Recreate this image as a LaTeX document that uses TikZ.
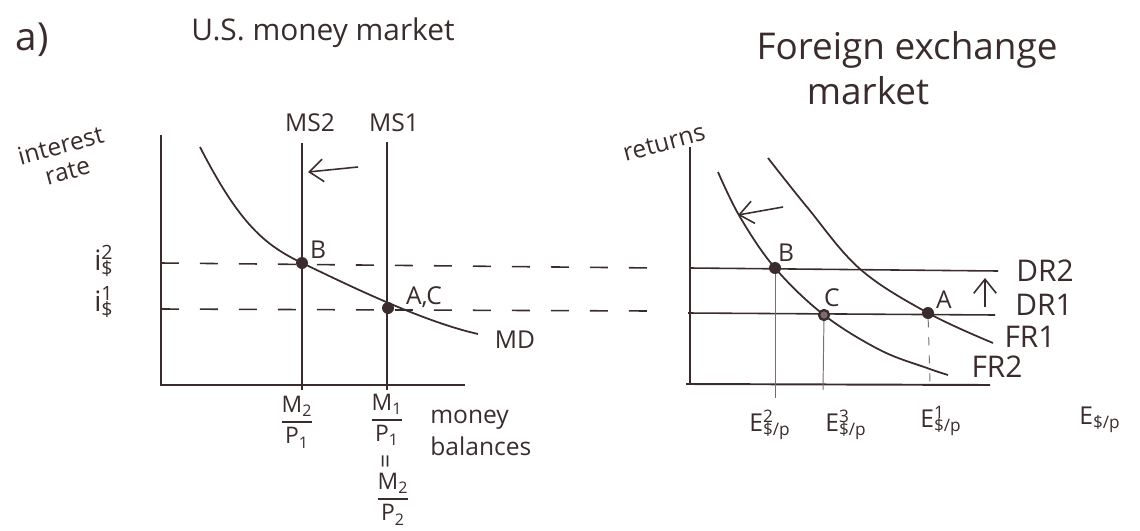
\documentclass[tikz,border=0pt]{standalone}
\usepackage{fontspec}
\usepackage{amsmath}
\setmainfont{Open Sans}
\usetikzlibrary{arrows.meta}
\definecolor{ink}{RGB}{58,44,44}
\definecolor{faint}{RGB}{120,110,110}
\newcommand{\myfrac}[2]{$\genfrac{}{}{0.9pt}{0}{\text{#1}}{\text{#2}}$}
\newcommand{\Elab}[1]{E\rlap{\textsuperscript{#1}}\textsubscript{\$/p}}
\begin{document}
\begin{tikzpicture}[x=0.02cm,y=-0.02cm,
  every node/.style={text=ink, inner sep=0pt},
  lbl/.style={font=\fontsize{14}{16}\selectfont},
  fr/.style={font=\fontsize{13}{15}\selectfont},
  big/.style={font=\fontsize{17}{20}\selectfont},
  huge/.style={font=\fontsize{21}{23}\selectfont},
  ax/.style={draw=ink, line width=1.1pt},
  mcurve/.style={draw=ink, line width=1pt},
  hline/.style={draw=ink, line width=0.9pt},
  guide/.style={draw=ink, line width=0.9pt, dash pattern=on 0.36cm off 0.42cm},
  drop/.style={draw=faint, line width=0.55pt},
  dropdash/.style={draw=faint, line width=0.55pt, dash pattern=on 0.16cm off 0.2cm},
  dot/.style={circle, fill=ink, minimum size=0.24cm},
  ring/.style={circle, draw=ink, line width=1.3pt, fill=faint, minimum size=0.2cm},
  move/.style={draw=ink, line width=0.9pt, -{Straight Barb[length=0.28cm,width=0.45cm]}},
]
\useasboundingbox (0,0) rectangle (1140,531);

% titles
\node[font=\fontsize{22}{24}\selectfont] (parta) at (32,40) {a)};
\node[big] (ttlL) at (323,33) {U.S. money market};
\node[huge] (ttlR1) at (907,50) {Foreign exchange};
\node[huge] (ttlR2) at (868,91) {market};

% ===== left graph: money market =====
\node[lbl, rotate=15, align=center, font=\fontsize{14}{15}\selectfont] (ylab) at (64,158) {interest\\rate};

\coordinate (LYtop) at (161,135);
\coordinate (LO) at (161,385);
\coordinate (LXend) at (465,385);
\draw[ax] (LYtop) -- (LO) -- (LXend);

\coordinate (ms2t) at (302,143); \coordinate (ms2b) at (302,390);
\coordinate (ms1t) at (387,142); \coordinate (ms1b) at (387,390);
\draw[hline] (ms2t) -- (ms2b);
\draw[hline] (ms1t) -- (ms1b);
\node[lbl] (ms2lab) at (310,123) {MS2};
\node[lbl] (ms1lab) at (394,123) {MS1};

\coordinate (arLs) at (358,167); \coordinate (arLe) at (308,172);
\draw[move] (arLs) -- (arLe);

\coordinate (i2s) at (161,263); \coordinate (i2e) at (655,268);
\coordinate (i1s) at (161,309); \coordinate (i1e) at (650,311);
\draw[guide] (i2s) -- (i2e);
\draw[guide] (i1s) -- (i1e);

\node[dot] (Bl) at (302,263) {};
\node[dot] (ACl) at (388,308) {};
\coordinate (mdS) at (200,147);
\coordinate (mdE) at (478,334);
\draw[mcurve] (mdS) .. controls (240,225) and (265,245) .. (Bl.center)
  .. controls (340,281) and (420,321) .. (mdE);
\node[lbl] (mdlab) at (515,340) {MD};

\node[lbl] (Bllab) at (318,250) {B};
\node[lbl] (ACllab) at (424,297) {A,C};

\node[font=\fontsize{16}{18}\selectfont] (i2lab) at (104,261) {i\rlap{\textsubscript{\$}}\textsuperscript{2}};
\node[font=\fontsize{16}{18}\selectfont] (i1lab) at (104,302) {i\rlap{\textsubscript{\$}}\textsuperscript{1}};

\node[fr] (f1) at (297,422) {\myfrac{M\textsubscript{2}}{P\textsubscript{1}}};
\node[fr] (f2) at (387,420) {\myfrac{M\textsubscript{1}}{P\textsubscript{1}}};
\node[lbl, rotate=90] (eqs) at (388,461) {=};
\node[fr] (f3) at (393,499) {\myfrac{M\textsubscript{2}}{P\textsubscript{2}}};
\node[lbl, anchor=west] (mb1) at (430,420) {money};
\node[lbl, anchor=west] (mb2) at (430,446) {balances};

% ===== right graph: foreign exchange market =====
\node[lbl, rotate=15] (retlab) at (664,143) {returns};

\coordinate (RYtop) at (690,147);
\coordinate (RO) at (690,384);
\coordinate (RXs) at (686,384);
\coordinate (RXend) at (990,385);
\draw[ax] (RYtop) -- (RO);
\draw[ax] (RXs) -- (RXend);

\coordinate (dr2s) at (690,268); \coordinate (dr2e) at (998,271);
\coordinate (dr1s) at (688,313); \coordinate (dr1e) at (995,315);
\draw[hline] (dr2s) -- (dr2e);
\draw[hline] (dr1s) -- (dr1e);

\draw[mcurve] plot[smooth, tension=0.6] coordinates {(718,172) (740,217) (775,268) (824,315) (880,350) (927,368) (948,375)};
\draw[mcurve] plot[smooth, tension=0.6] coordinates {(768,158) (807,207) (860,269) (928,313) (993,343)};

\coordinate (Bdrop) at (775,398);
\coordinate (Cdrop) at (823,390);
\coordinate (Adrop) at (930,384);
\node[dot] (Br) at (775,268) {};
\node[ring] (Cr) at (824,315) {};
\node[dot] (Ar) at (928,313) {};
\draw[drop] (Br) -- (Bdrop);
\draw[drop] (Cr) -- (Cdrop);
\draw[dropdash] (Ar) -- (Adrop);

\node[lbl] (Brlab) at (786,253) {B};
\node[lbl] (Crlab) at (832,298) {C};
\node[lbl] (Arlab) at (944,300) {A};

\coordinate (arRs) at (783,207); \coordinate (arRe) at (738,215);
\draw[move] (arRs) -- (arRe);
\coordinate (arUs) at (985,307); \coordinate (arUe) at (985,278);
\draw[move] (arUs) -- (arUe);

\node[big] (dr2lab) at (1045,271) {DR2};
\node[big] (dr1lab) at (1044,305) {DR1};
\node[big] (fr1lab) at (1030,337) {FR1};
\node[big] (fr2lab) at (997,367) {FR2};

\node[lbl] (e2lab) at (770,425) {\Elab{2}};
\node[lbl] (e3lab) at (846,425) {\Elab{3}};
\node[lbl] (e1lab) at (941,421) {\Elab{1}};
\node[lbl] (elab) at (1100,420) {E\textsubscript{\$/p}};
\end{tikzpicture}
\end{document}
